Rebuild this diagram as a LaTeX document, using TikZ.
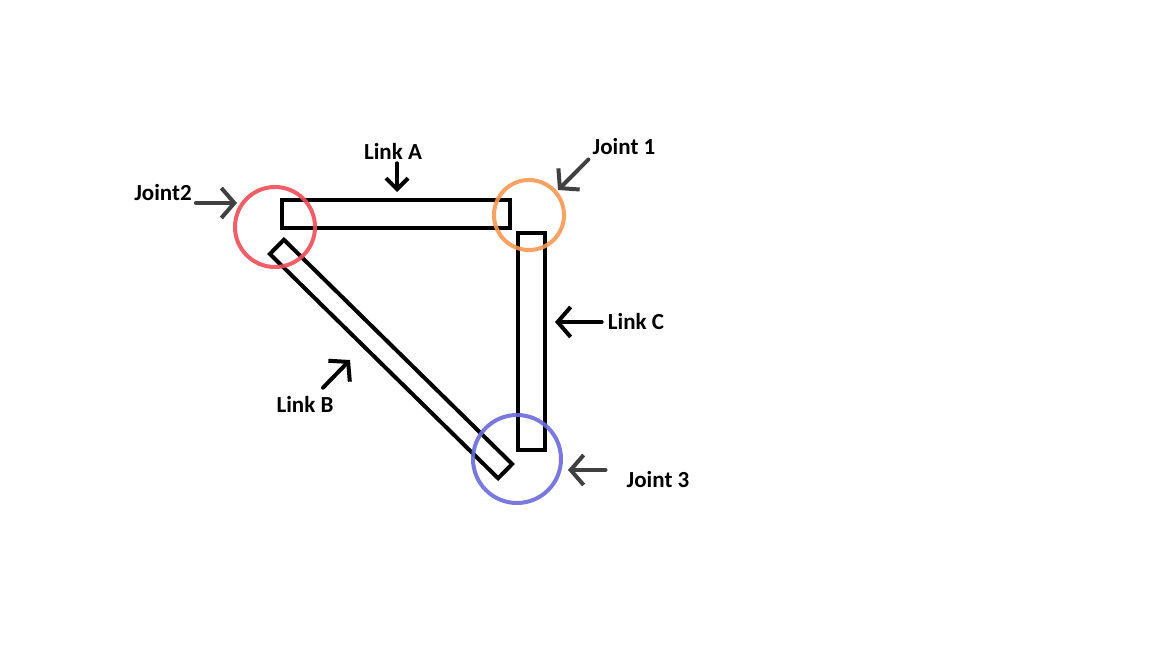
\documentclass[tikz,border=0pt]{standalone}
\usepackage{fontspec}
\setmainfont{Carlito}
\usetikzlibrary{arrows.meta}

\definecolor{jointred}{RGB}{238,78,88}
\definecolor{jointorange}{RGB}{247,152,82}
\definecolor{jointblue}{RGB}{108,108,218}
\definecolor{pointgray}{RGB}{64,64,64}

\tikzset{
    link/.style={draw=black, line width=4pt, inner sep=0pt, fill=none},
    joint/.style={line width=4pt, draw opacity=0.9},
    lbl/.style={font=\fontsize{23}{27}\selectfont\bfseries, inner sep=2pt},
    ptr/.style={line width=4pt, line cap=round, -{Straight Barb[length=13pt, width=30pt]}},
    jptr/.style={ptr, pointgray},
}

\begin{document}
\begin{tikzpicture}[x=1pt, y=-1pt]
    \useasboundingbox (0,0) rectangle (1152,648);

    % Links
    \node[link, minimum width=228pt, minimum height=28pt] (linkA) at (396,214) {};
    \node[link, minimum width=27pt, minimum height=217pt] (linkC) at (531.5,341.5) {};
    \node[link, minimum width=320pt, minimum height=20pt, rotate=-44.5] (linkB) at (391,359) {};

    % Joints
    \draw[joint, jointred] (275,227) circle (40);
    \draw[joint, jointorange] (529,215) circle (35);
    \draw[joint, jointblue] (517,459) circle (44);

    % Labels
    \node[lbl] (j2) at (163,193) {Joint2};
    \node[lbl] (la) at (393,151) {Link A};
    \node[lbl] (j1) at (624,147) {Joint 1};
    \node[lbl] (lc) at (636,322) {Link C};
    \node[lbl] (j3) at (658,480) {Joint 3};
    \node[lbl] (lb) at (305,404) {Link B};

    % Arrow tips
    \coordinate (j2tip) at (237,203);
    \coordinate (latip) at (397,192);
    \coordinate (j1tip) at (558,190);
    \coordinate (lctip) at (555,322);
    \coordinate (j3tip) at (568,470);
    \coordinate (lbtip) at (350,360);

    % Pointers
    \draw[jptr, shorten <=2pt] (j2.east |- j2tip) -- (j2tip);
    \draw[ptr, -{Straight Barb[length=11pt, width=22pt]}, shorten <=2pt] (latip |- la.south) -- (latip);
    \draw[jptr, shorten <=3pt] (j1.south west) -- (j1tip);
    \draw[ptr, shorten <=4pt] (lc.west) -- (lctip);
    \draw[jptr, shorten <=19pt] (j3.west |- j3tip) -- (j3tip);
    \draw[ptr] ([xshift=18pt, yshift=6pt]lb.north) -- (lbtip);
\end{tikzpicture}
\end{document}
